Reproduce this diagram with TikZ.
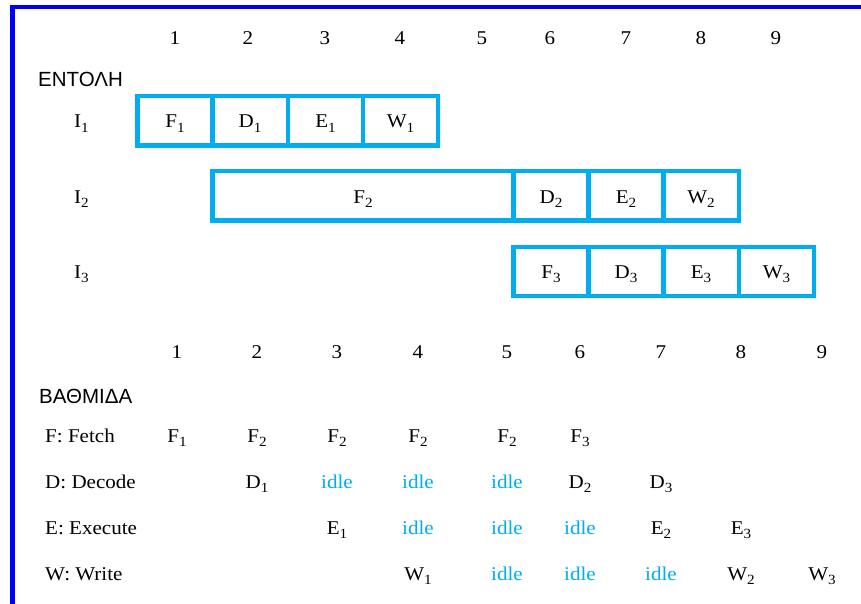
\documentclass[tikz,border=0pt]{standalone}
\usepackage{fontspec}
\setmainfont[FakeStretch=1.08]{Liberation Serif}
\newfontfamily\grkfont{Liberation Sans}
\definecolor{cyanline}{RGB}{0,174,239}
\definecolor{frameblue}{RGB}{0,0,250}
\newcommand{\sbx}[2]{#1\raisebox{-4.5pt}{\fontsize{14}{14}\selectfont #2}}
\begin{document}
\begin{tikzpicture}[x=1pt,y=-1pt,
  txt/.style={inner sep=0pt, anchor=base, font=\fontsize{19.5}{22}\selectfont},
  lbl/.style={inner sep=0pt, anchor=base west, font=\fontsize{19.5}{22}\selectfont},
  head/.style={inner sep=0pt, anchor=base west, font=\grkfont\fontsize{20.5}{24}\selectfont},
  idle/.style={txt, text=cyanline},
  cellbox/.style={draw=cyanline, line width=4.6pt},
  frame/.style={draw=frameblue, line width=4.5pt}]
\useasboundingbox (0,0) rectangle (861,604);
\fill[white] (0,0) rectangle (861,604);
% frame
\draw[frame] (12.5,604) -- (12.5,7) -- (861,7);

% top numbers
\foreach \x/\n in {175/1,248/2,325/3,400/4,482/5,550/6,626/7,701/8,776/9}
  \node[txt] (t\n) at (\x,45) {\n};
\node[head] (entoli) at (38,87) {ΕΝΤΟΛΗ};

% instruction labels
\node[lbl] (i1) at (74,128) {\sbx{I}{1}};
\node[lbl] (i2) at (74,203) {\sbx{I}{2}};
\node[lbl] (i3) at (74,278) {\sbx{I}{3}};

% I1 boxes
\draw[cellbox] (137.5,96) rectangle (438,145.5);
\foreach \x in {212.5,288,363} \draw[cellbox] (\x,96) -- (\x,145.5);
\node[txt] (f1) at (175,128) {\sbx{F}{1}};
\node[txt] (d1) at (250,128) {\sbx{D}{1}};
\node[txt] (e1) at (325.5,128) {\sbx{E}{1}};
\node[txt] (w1) at (400.5,128) {\sbx{W}{1}};

% I2 boxes
\draw[cellbox] (212.5,171) rectangle (739,220.5);
\foreach \x in {513.5,588.5,663.5} \draw[cellbox] (\x,171) -- (\x,220.5);
\node[txt] (f2) at (363,203) {\sbx{F}{2}};
\node[txt] (d2) at (551,203) {\sbx{D}{2}};
\node[txt] (e2) at (626,203) {\sbx{E}{2}};
\node[txt] (w2) at (701,203) {\sbx{W}{2}};

% I3 boxes
\draw[cellbox] (513.5,247) rectangle (814,296);
\foreach \x in {588.5,663.5,739} \draw[cellbox] (\x,247) -- (\x,296);
\node[txt] (f3) at (551,278) {\sbx{F}{3}};
\node[txt] (d3) at (626,278) {\sbx{D}{3}};
\node[txt] (e3) at (701,278) {\sbx{E}{3}};
\node[txt] (w3) at (776.5,278) {\sbx{W}{3}};

% bottom numbers
\foreach \x/\n in {177/1,257/2,337/3,418/4,507/5,580/6,661/7,741/8,822/9}
  \node[txt] (b\n) at (\x,358) {\n};
\node[head] (vathmida) at (39,403) {ΒΑΘΜΙΔΑ};

% stage rows
\node[lbl] (lf) at (45,442) {F: Fetch};
\node[lbl] (ld) at (45,488) {D: Decode};
\node[lbl] (le) at (45,534) {E: Execute};
\node[lbl] (lw) at (45,580) {W: Write};

% Fetch row
\node[txt] (sf1) at (177,442) {\sbx{F}{1}};
\node[txt] (sf2) at (257,442) {\sbx{F}{2}};
\node[txt] (sf3) at (337,442) {\sbx{F}{2}};
\node[txt] (sf4) at (418,442) {\sbx{F}{2}};
\node[txt] (sf5) at (507,442) {\sbx{F}{2}};
\node[txt] (sf6) at (580,442) {\sbx{F}{3}};

% Decode row
\node[txt] (sd2) at (257,488) {\sbx{D}{1}};
\node[idle] (sd3) at (337,488) {idle};
\node[idle] (sd4) at (418,488) {idle};
\node[idle] (sd5) at (507,488) {idle};
\node[txt] (sd6) at (580,488) {\sbx{D}{2}};
\node[txt] (sd7) at (661,488) {\sbx{D}{3}};

% Execute row
\node[txt] (se3) at (337,534) {\sbx{E}{1}};
\node[idle] (se4) at (418,534) {idle};
\node[idle] (se5) at (507,534) {idle};
\node[idle] (se6) at (580,534) {idle};
\node[txt] (se7) at (661,534) {\sbx{E}{2}};
\node[txt] (se8) at (741,534) {\sbx{E}{3}};

% Write row
\node[txt] (sw4) at (418,580) {\sbx{W}{1}};
\node[idle] (sw5) at (507,580) {idle};
\node[idle] (sw6) at (580,580) {idle};
\node[idle] (sw7) at (661,580) {idle};
\node[txt] (sw8) at (741,580) {\sbx{W}{2}};
\node[txt] (sw9) at (822,580) {\sbx{W}{3}};
\end{tikzpicture}
\end{document}
